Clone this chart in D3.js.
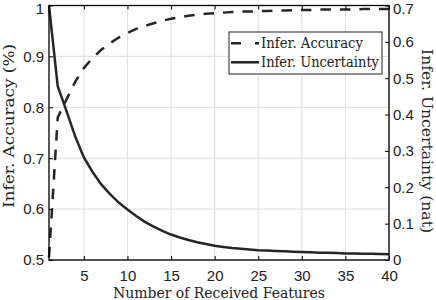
<!DOCTYPE html>
<html><head><meta charset="utf-8">
<script src="https://cdn.jsdelivr.net/npm/d3@7"></script>
<style>body{margin:0;background:#fff}svg{display:block}</style>
</head><body>
<svg id="c" width="436" height="300"></svg>
<script>
const features = d3.range(1, 41);
const accuracy = [0.505,0.78,0.815,0.85,0.877,0.897,0.913,0.926,0.937,0.946,
  0.954,0.960,0.965,0.970,0.974,0.977,0.980,0.982,0.984,0.985,
  0.986,0.987,0.988,0.988,0.989,0.989,0.990,0.990,0.991,0.991,
  0.991,0.992,0.992,0.992,0.992,0.992,0.993,0.993,0.993,0.993];
const uncertainty = [0.70,0.478,0.41,0.34,0.282,0.242,0.208,0.181,0.158,0.139,
  0.121,0.105,0.092,0.080,0.070,0.062,0.055,0.049,0.044,0.039,
  0.036,0.033,0.031,0.029,0.027,0.026,0.025,0.024,0.023,0.022,
  0.021,0.020,0.020,0.019,0.018,0.018,0.017,0.017,0.0165,0.016];
const xTicks = [5,10,15,20,25,30,35,40];
const yLeftTicks = [0.5,0.6,0.7,0.8,0.9,1];
const yRightTicks = [0,0.1,0.2,0.3,0.4,0.5,0.6,0.7];
const legendLabels = ["Infer. Accuracy","Infer. Uncertainty"];

const svg = d3.select("#c");
const L=49, R=389, T=5.5, B=260;
const x = d3.scaleLinear().domain([1,40]).range([L,R]);
const yl = d3.scaleLinear().domain([0.5,1]).range([B,T]);
const yr = d3.scaleLinear().domain([0,0.7]).range([B,T]);
const sans = "'Liberation Sans', Arial, sans-serif";
const serif = "'DejaVu Serif', 'Liberation Serif', serif";

// grid
const g = svg.append("g");
g.selectAll(".gx").data(xTicks).enter().append("line")
  .attr("x1",d=>x(d)).attr("x2",d=>x(d)).attr("y1",T).attr("y2",B)
  .attr("stroke","#e3e3e3").attr("stroke-width",1.2);
g.selectAll(".gy").data(yLeftTicks).enter().append("line")
  .attr("x1",L).attr("x2",R).attr("y1",d=>yl(d)).attr("y2",d=>yl(d))
  .attr("stroke","#e3e3e3").attr("stroke-width",1.2);

// lines
const lineA = d3.line().x((d,i)=>x(features[i])).y(d=>yl(d));
const lineU = d3.line().x((d,i)=>x(features[i])).y(d=>yr(d));
svg.append("path").attr("d",lineA(accuracy)).attr("fill","none")
  .attr("stroke","#262626").attr("stroke-width",2.5).attr("stroke-dasharray","10.5,9");
svg.append("path").attr("d",lineU(uncertainty)).attr("fill","none")
  .attr("stroke","#262626").attr("stroke-width",2.5);

// axes
function styleAxis(sel){
  sel.select(".domain").remove();
  sel.selectAll("line").attr("stroke","#000").attr("stroke-width",1);
  sel.selectAll("text").attr("font-family",sans).attr("font-size",15).attr("fill","#222");
}
const ax = svg.append("g").attr("transform",`translate(0,${B})`)
  .call(d3.axisBottom(x).tickValues(xTicks).tickSizeInner(-4).tickSizeOuter(0).tickPadding(10));
styleAxis(ax);
const axTop = svg.append("g").attr("transform",`translate(0,${T})`)
  .call(d3.axisTop(x).tickValues(xTicks).tickSizeInner(-4).tickSizeOuter(0).tickFormat(""));
styleAxis(axTop);
const ayl = svg.append("g").attr("transform",`translate(${L},0)`)
  .call(d3.axisLeft(yl).tickValues(yLeftTicks).tickSizeInner(-4).tickSizeOuter(0).tickPadding(5)
  .tickFormat(d=>d===1?"1":d3.format(".1f")(d)));
styleAxis(ayl);
ayl.selectAll("text").filter(d=>d===1).attr("dy","0.56em");
const ayr = svg.append("g").attr("transform",`translate(${R},0)`)
  .call(d3.axisRight(yr).tickValues(yRightTicks).tickSizeInner(-4).tickSizeOuter(0).tickPadding(4)
  .tickFormat(d=>d===0?"0":d3.format(".1f")(d)));
styleAxis(ayr);
ayr.selectAll("text").filter(d=>d===0.7).attr("dy","0.56em");

// box
svg.append("rect").attr("x",L).attr("y",T).attr("width",R-L).attr("height",B-T)
  .attr("fill","none").attr("stroke","#000").attr("stroke-width",1.3);

// titles
function title(t, len){
  return svg.append("text").attr("text-anchor","middle").attr("font-family",serif)
    .attr("font-size",14).attr("fill","#222").attr("textLength",len)
    .attr("lengthAdjust","spacingAndGlyphs").text(t);
}
title("Number of Received Features",212).attr("x",219).attr("y",297.5);
title("Infer. Accuracy (%)",164).attr("transform",`translate(13.5,126) rotate(-90)`);
title("Infer. Uncertainty (nat)",184).attr("transform",`translate(422,141) rotate(90)`);

// legend
const lg = svg.append("g");
lg.append("rect").attr("x",229).attr("y",32).attr("width",153).attr("height",42)
  .attr("fill","#fff").attr("stroke","#222").attr("stroke-width",1);
const legendLens = [102,118];
legendLabels.forEach((t,i)=>{
  const cy = 43.3 + i*19;
  lg.append("line").attr("x1",231).attr("x2",259).attr("y1",cy).attr("y2",cy)
    .attr("stroke","#262626").attr("stroke-width",2.5)
    .attr("stroke-dasharray", i===0 ? "10,14" : null);
  lg.append("text").attr("x",261).attr("y",cy+5).attr("font-family",serif)
    .attr("font-size",14).attr("fill","#222").attr("textLength",legendLens[i])
    .attr("lengthAdjust","spacingAndGlyphs").text(t);
});
</script>
</body></html>
